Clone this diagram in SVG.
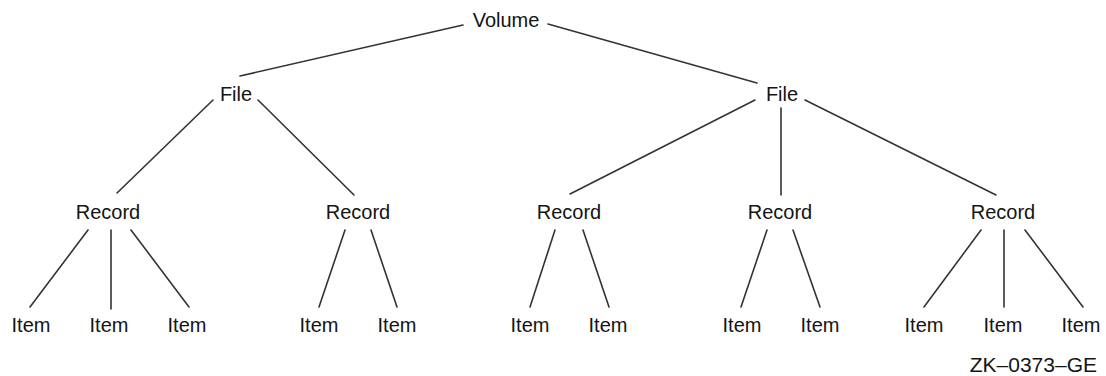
<svg xmlns="http://www.w3.org/2000/svg" width="1106" height="376" viewBox="0 0 1106 376">
<style>
  text { font-family: "Liberation Sans", Arial, sans-serif; font-size: 20px; fill: #141414; text-anchor: middle; }
  .c line { stroke: #333; stroke-width: 1.6; stroke-linecap: round; }
</style>
<rect width="1106" height="376" fill="#fff"/>
<g class="c" id="connectors">
  <line x1="463" y1="25" x2="240" y2="76"/>
  <line x1="548" y1="24" x2="757" y2="83"/>
  <line x1="213" y1="100" x2="117" y2="193"/>
  <line x1="258" y1="100" x2="354" y2="195"/>
  <line x1="755" y1="100" x2="570" y2="194"/>
  <line x1="781" y1="108" x2="781" y2="195"/>
  <line x1="805" y1="100" x2="996" y2="195"/>
  <line x1="88" y1="230" x2="30" y2="307"/>
  <line x1="111" y1="230" x2="111" y2="309"/>
  <line x1="131" y1="230" x2="189" y2="307"/>
  <line x1="345" y1="230" x2="319" y2="307"/>
  <line x1="371" y1="230" x2="397" y2="307"/>
  <line x1="555" y1="230" x2="530" y2="307"/>
  <line x1="583" y1="230" x2="609" y2="307"/>
  <line x1="767" y1="230" x2="741" y2="307"/>
  <line x1="793" y1="230" x2="820" y2="307"/>
  <line x1="981" y1="230" x2="924" y2="307"/>
  <line x1="1004" y1="230" x2="1004" y2="307"/>
  <line x1="1025" y1="230" x2="1083" y2="307"/>
</g>
<g id="volume"><text x="506" y="27">Volume</text></g>
<g id="file1"><text x="236" y="101">File</text></g>
<g id="file2"><text x="782" y="101">File</text></g>
<g id="record1"><text x="108" y="219">Record</text></g>
<g id="record2"><text x="358" y="219">Record</text></g>
<g id="record3"><text x="569" y="219">Record</text></g>
<g id="record4"><text x="780" y="219">Record</text></g>
<g id="record5"><text x="1003" y="219">Record</text></g>
<g id="item1"><text x="31" y="332">Item</text></g>
<g id="item2"><text x="109" y="332">Item</text></g>
<g id="item3"><text x="187" y="332">Item</text></g>
<g id="item4"><text x="319" y="332">Item</text></g>
<g id="item5"><text x="397" y="332">Item</text></g>
<g id="item6"><text x="530" y="332">Item</text></g>
<g id="item7"><text x="608" y="332">Item</text></g>
<g id="item8"><text x="742" y="332">Item</text></g>
<g id="item9"><text x="820" y="332">Item</text></g>
<g id="item10"><text x="924" y="332">Item</text></g>
<g id="item11"><text x="1003" y="332">Item</text></g>
<g id="item12"><text x="1081" y="332">Item</text></g>
<g id="label"><text x="1097" y="372" style="text-anchor:end;font-size:21px">ZK–0373–GE</text></g>
</svg>
